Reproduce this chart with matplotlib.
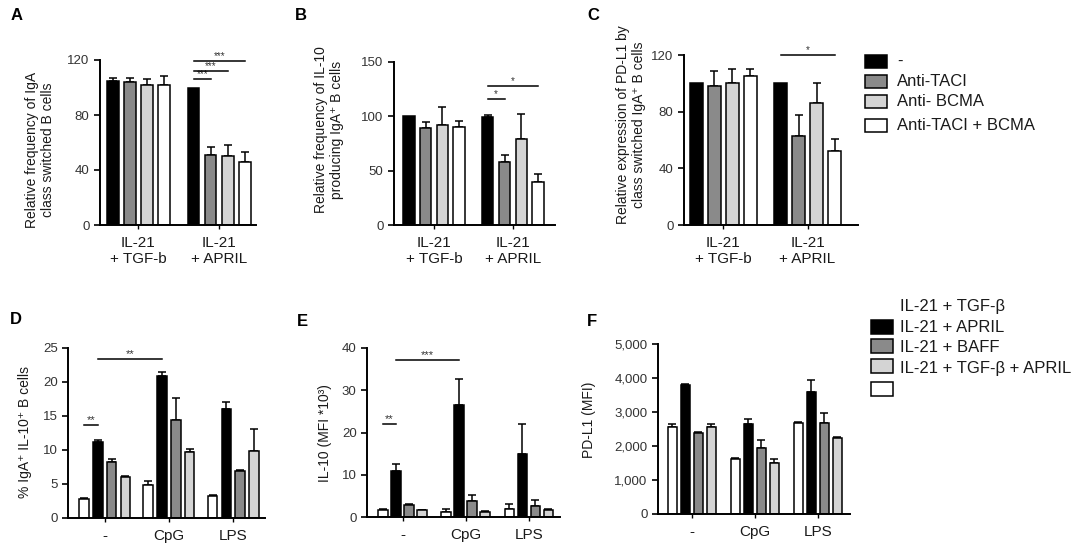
import matplotlib
matplotlib.use('Agg')
import matplotlib.pyplot as plt
from matplotlib.patches import Rectangle

plt.rcParams['font.family'] = ['Liberation Sans', 'DejaVu Sans']

# ---------------- data ----------------
top_series = ['-', 'Anti-TACI', 'Anti- BCMA', 'Anti-TACI + BCMA']
top_conditions = ['IL-21\n+ TGF-b', 'IL-21\n+ APRIL']

A_vals = [[105, 104, 102, 102], [100, 51, 50, 46]]
A_err = [[2, 3, 4, 6.5], [0, 6, 8, 7]]
B_vals = [[100, 89, 92, 90], [99, 58, 79, 40]]
B_err = [[0, 6, 17, 6], [2, 6, 23, 7]]
C_vals = [[100, 98, 100, 105], [100, 63, 86, 52]]
C_err = [[0, 11, 10, 5], [0, 15, 14, 9]]

bottom_series = ['IL-21 + TGF-β', 'IL-21 + APRIL', 'IL-21 + BAFF', 'IL-21 + TGF-β + APRIL']
bottom_conditions = ['-', 'CpG', 'LPS']

D_vals = [[2.8, 11.2, 8.2, 6.0], [4.9, 20.9, 14.4, 9.7], [3.2, 16.0, 6.9, 9.8]]
D_err = [[0.15, 0.2, 0.5, 0.2], [0.6, 0.6, 3.2, 0.4], [0.2, 1.0, 0.15, 3.3]]
E_vals = [[1.7, 11.0, 2.8, 1.6], [1.2, 26.4, 3.9, 1.2], [2.0, 14.9, 2.7, 1.7]]
E_err = [[0.15, 1.5, 0.2, 0.15], [0.7, 6.3, 1.4, 0.15], [1.1, 7.1, 1.4, 0.3]]
F_vals = [[2570, 3800, 2370, 2570], [1620, 2650, 1930, 1510], [2690, 3600, 2690, 2240]]
F_err = [[80, 30, 30, 80], [20, 150, 240, 100], [10, 340, 290, 30]]

top_colors = ['#000000', '#8a8a8a', '#d4d4d4', '#ffffff']
bottom_colors = ['#ffffff', '#000000', '#8a8a8a', '#d4d4d4']

# ---------------- layout ----------------
W, H = 1084, 545
fig = plt.figure(figsize=(W / 100, H / 100), dpi=100)
TXT = '#1a1a1a'


def px_axes(l, t, r, b):
    return fig.add_axes([l / W, 1 - b / H, (r - l) / W, (b - t) / H])


def xpos(g, i, gap):
    return g * gap + (i - 1.5)


def draw_panel(ax, vals, errs, colors, ylim, yticks, xlabels, gap, width, xlim,
               ytick_labels=None, xfs=11):
    for g, (gv, ge) in enumerate(zip(vals, errs)):
        for i, (v, e) in enumerate(zip(gv, ge)):
            x = xpos(g, i, gap)
            ax.bar(x, v, width=width, color=colors[i], edgecolor='black',
                   linewidth=1.1, zorder=2)
            if e > 0:
                ax.errorbar(x, v, yerr=[[0], [e]], fmt='none', ecolor='black',
                            elinewidth=1.1, capsize=3, capthick=1.1, zorder=1)
    ax.set_xlim(*xlim)
    ax.set_ylim(*ylim)
    ax.set_yticks(yticks)
    if ytick_labels is not None:
        ax.set_yticklabels(ytick_labels)
    centers = [g * gap for g in range(len(vals))]
    ax.set_xticks(centers)
    ax.set_xticklabels(xlabels, fontsize=xfs, color=TXT, linespacing=1.15)
    for s in ['top', 'right']:
        ax.spines[s].set_visible(False)
    for s in ['left', 'bottom']:
        ax.spines[s].set_linewidth(1.4)
    ax.tick_params(axis='y', labelsize=9.5, labelcolor='#333333', length=4, width=1.2)
    ax.tick_params(axis='x', length=3, width=1.0, pad=5)
    ax.set_facecolor('none')


def sig(ax, x1, x2, y, stars, fs=7):
    ax.plot([x1, x2], [y, y], color='black', lw=1.1, clip_on=False, zorder=3)
    ax.text((x1 + x2) / 2, y, stars, ha='center', va='bottom', fontsize=fs,
            color='#333333', clip_on=False)


# ----- Panel A -----
gapA = 4.74
axA = px_axes(100, 60, 256, 225)
draw_panel(axA, A_vals, A_err, top_colors, (0, 120), [0, 40, 80, 120],
           top_conditions, gapA, 0.68, (-2.26, 6.9))
for k, h in zip([1, 2, 3], [106, 112, 119]):
    sig(axA, xpos(1, 0, gapA), xpos(1, k, gapA), h, '***')

# ----- Panel B -----
gapB = 4.7
axB = px_axes(394, 62, 555, 225)
draw_panel(axB, B_vals, B_err, top_colors, (0, 150), [0, 50, 100, 150],
           top_conditions, gapB, 0.68, (-2.38, 7.2))
sig(axB, xpos(1, 0, gapB), xpos(1, 1, gapB), 116, '*')
sig(axB, xpos(1, 0, gapB), xpos(1, 3, gapB), 128, '*')

# ----- Panel C -----
gapC = 4.67
axC = px_axes(684, 55, 858, 225)
draw_panel(axC, C_vals, C_err, top_colors, (0, 120), [0, 40, 80, 120],
           top_conditions, gapC, 0.7, (-2.19, 7.47))
sig(axC, xpos(1, 0, gapC), xpos(1, 3, gapC), 120, '*')

# ----- Panel D -----
gapD = 4.65
axD = px_axes(68, 348, 265, 518)
draw_panel(axD, D_vals, D_err, bottom_colors, (0, 25), [0, 5, 10, 15, 20, 25],
           bottom_conditions, gapD, 0.69, (-2.66, 11.6))
sig(axD, xpos(0, 0, gapD), xpos(0, 1, gapD), 13.7, '**', 8)
sig(axD, xpos(0, 1, gapD), xpos(1, 1, gapD), 23.4, '**', 8)

# ----- Panel E -----
gapE = 4.85
axE = px_axes(367, 348, 560, 517)
draw_panel(axE, E_vals, E_err, bottom_colors, (0, 40), [0, 10, 20, 30, 40],
           bottom_conditions, gapE, 0.72, (-2.73, 12.1))
sig(axE, xpos(0, 0, gapE), xpos(0, 1, gapE), 22, '**', 8)
sig(axE, xpos(0, 1, gapE), xpos(1, 1, gapE), 37.2, '***', 8)

# ----- Panel F -----
gapF = 4.85
axF = px_axes(658, 344, 850, 514)
fticks = [0, 1000, 2000, 3000, 4000, 5000]
draw_panel(axF, F_vals, F_err, bottom_colors, (0, 5000), fticks,
           bottom_conditions, gapF, 0.72, (-2.6, 12.17),
           ytick_labels=['{:,}'.format(t) for t in fticks])

# ----- y labels -----
fig.text(40 / W, 1 - 150 / H, 'Relative frequency of IgA\nclass switched B cells',
         rotation=90, ha='center', va='center', fontsize=10, color=TXT, linespacing=1.2)
fig.text(329 / W, 1 - 130 / H, 'Relative frequency of IL-10\nproducing IgA⁺ B cells',
         rotation=90, ha='center', va='center', fontsize=10, color=TXT, linespacing=1.2)
fig.text(631 / W, 1 - 125 / H, 'Relative expression of PD-L1 by\nclass switched IgA⁺ B cells',
         rotation=90, ha='center', va='center', fontsize=10, color=TXT, linespacing=1.2)
fig.text(25 / W, 1 - 432 / H, '% IgA⁺ IL-10⁺ B cells',
         rotation=90, ha='center', va='center', fontsize=10, color=TXT)
fig.text(325 / W, 1 - 433 / H, 'IL-10 (MFI *10³)',
         rotation=90, ha='center', va='center', fontsize=10, color=TXT)
fig.text(589 / W, 1 - 420 / H, 'PD-L1 (MFI)',
         rotation=90, ha='center', va='center', fontsize=10, color=TXT)

# ----- panel letters -----
for lab, (x, y) in zip('ABCDEF', [(17, 15), (301, 15), (593, 15),
                                  (16, 319), (302, 321), (592, 322)]):
    fig.text(x / W, 1 - y / H, lab, ha='center', va='center', fontsize=12,
             fontweight='bold', color='black')

# ----- top legend -----
top_rows = [61, 81, 101, 125]
for lab, col, yc in zip(top_series, top_colors, top_rows):
    fig.patches.append(Rectangle((865 / W, 1 - (yc + 6.5) / H), 22 / W, 13 / H,
                                 transform=fig.transFigure, fc=col, ec='black', lw=1.1))
    fig.text(897 / W, 1 - yc / H, lab, ha='left', va='center', fontsize=12, color=TXT)

# ----- bottom legend (labels and swatches offset as in the original) -----
text_rows = [307, 328, 348, 368]
patch_rows = [327, 346, 366, 389]
for lab, yc in zip(bottom_series, text_rows):
    fig.text(900 / W, 1 - yc / H, lab, ha='left', va='center', fontsize=12, color=TXT)
patch_colors = bottom_colors[1:] + bottom_colors[:1]
for col, yc in zip(patch_colors, patch_rows):
    fig.patches.append(Rectangle((871 / W, 1 - (yc + 7) / H), 22 / W, 14 / H,
                                 transform=fig.transFigure, fc=col, ec='black', lw=1.1))

fig.savefig('out.png', dpi=100)
